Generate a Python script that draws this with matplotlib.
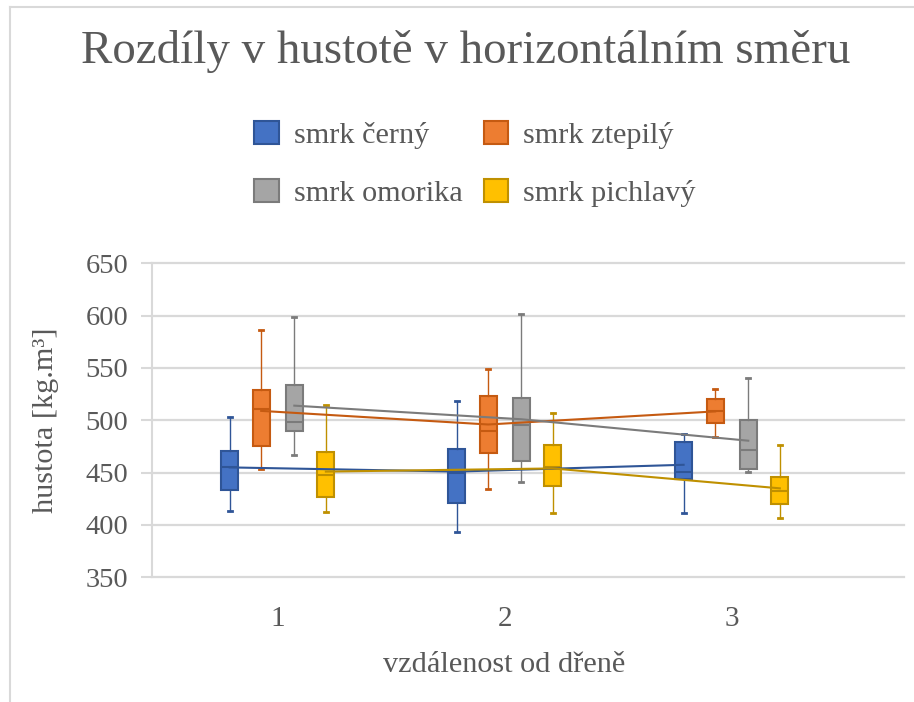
import numpy as np
import matplotlib
matplotlib.use("Agg")
import matplotlib.pyplot as plt
from matplotlib.patches import Patch
from matplotlib.lines import Line2D

plt.rcParams['font.family'] = ['Liberation Serif', 'DejaVu Serif']

# ---- data ----
categories = [1, 2, 3]
series = ["smrk černý", "smrk ztepilý", "smrk omorika", "smrk pichlavý"]

# rows = series, columns = category 1..3
whis_lo = [[413.5, 393.0, 411.5],
           [453.0, 434.0, 484.0],
           [467.0, 441.0, 451.0],
           [412.5, 411.0, 406.5]]
q1 = [[433.0, 421.0, 444.0],
      [475.0, 469.0, 497.0],
      [490.0, 461.5, 453.5],
      [427.0, 437.0, 420.0]]
median = [[455.0, 450.0, 451.0],
          [511.0, 490.0, 509.0],
          [498.0, 495.5, 472.0],
          [448.0, 455.5, 432.5]]
q3 = [[471.0, 473.0, 479.0],
      [529.0, 523.0, 520.0],
      [534.0, 521.0, 500.0],
      [470.0, 476.0, 446.0]]
whis_hi = [[503.0, 518.0, 487.0],
           [586.0, 549.0, 529.5],
           [599.0, 601.5, 540.0],
           [514.5, 507.0, 476.0]]
mean = [[455.0, 451.0, 457.5],
        [509.0, 496.0, 508.5],
        [514.0, 501.0, 480.5],
        [451.0, 454.0, 435.0]]

# ---- styling ----
fill = ['#4472C4', '#ED7D31', '#A5A5A5', '#FFC000']
edge = ['#2F5597', '#C55A11', '#7B7B7B', '#BF9000']
offsets = [-0.212, -0.073, 0.073, 0.212]
TXT = '#595959'
GRID = '#D9D9D9'

fig = plt.figure(figsize=(9.14, 7.02), dpi=100)
ax = fig.add_axes([152/914, 1-577.3/702, 752/914, 314/702])

for i in range(len(series)):
    stats = []
    for j in range(len(categories)):
        stats.append(dict(whislo=whis_lo[i][j], q1=q1[i][j], med=median[i][j],
                          q3=q3[i][j], whishi=whis_hi[i][j], mean=mean[i][j],
                          fliers=[]))
    pos = [c + offsets[i] for c in categories]
    ax.bxp(stats, positions=pos, widths=0.075, patch_artist=True,
           showfliers=False, showmeans=False, capwidths=0.018,
           boxprops=dict(facecolor=fill[i], edgecolor=edge[i], linewidth=1.5),
           medianprops=dict(color=edge[i], linewidth=1.5),
           whiskerprops=dict(color=edge[i], linewidth=1.0),
           capprops=dict(color=edge[i], linewidth=2.0),
           zorder=3)
    ax.plot(pos, mean[i], color=edge[i], linewidth=1.5, zorder=5)

ax.set_xlim(0.446, 3.759)
ax.set_ylim(350, 650)
ax.set_yticks(np.arange(350, 651, 50))
ax.set_xticks(categories)
ax.set_xticklabels([str(c) for c in categories])

for s in ['top', 'right', 'bottom']:
    ax.spines[s].set_visible(False)
ax.spines['left'].set_color(GRID)
ax.spines['left'].set_linewidth(1.5)

ax.grid(axis='y', color=GRID, linewidth=1.6)
ax.set_axisbelow(True)
for gl in ax.get_ygridlines():
    gl.set_clip_on(False)

ax.tick_params(axis='y', direction='out', length=8, width=1.5, color=GRID,
               labelcolor=TXT, labelsize=20.5, pad=9)
ax.tick_params(axis='x', length=0, labelcolor=TXT, labelsize=21, pad=21)

fig.text(466/914, 1-63/702, "Rozdíly v hustotě v horizontálním směru",
         ha='center', va='baseline', fontsize=33.8, color=TXT)
fig.text(504/914, 1-665/702, "vzdálenost od dřeně",
         ha='center', va='center', fontsize=21.8, color=TXT)
fig.text(46/914, 1-420/702, "hustota [kg.m³]", rotation=90,
         ha='center', va='center', fontsize=21.8, color=TXT)

handles = [Patch(facecolor=fill[i], edgecolor=edge[i], linewidth=1.5)
           for i in range(len(series))]
# matplotlib fills legend columns first: reorder so rows read like the original
order = [0, 2, 1, 3]
fig.legend([handles[k] for k in order], [series[k] for k in order],
           ncol=2, loc='center',
           bbox_to_anchor=(475/914, 1-164/702), frameon=False,
           fontsize=21.8, labelcolor=TXT, handlelength=0.8, handleheight=0.8,
           handletextpad=0.5, labelspacing=1.0, columnspacing=0.7)

# chart frame (top and left edges visible in the crop)
fig.add_artist(Line2D([10/914, 1.0], [1-7/702, 1-7/702], color=GRID,
                      linewidth=1.5, transform=fig.transFigure))
fig.add_artist(Line2D([10/914, 10/914], [0.0, 1-7/702], color=GRID,
                      linewidth=1.5, transform=fig.transFigure))

fig.savefig("out.png", dpi=100)
